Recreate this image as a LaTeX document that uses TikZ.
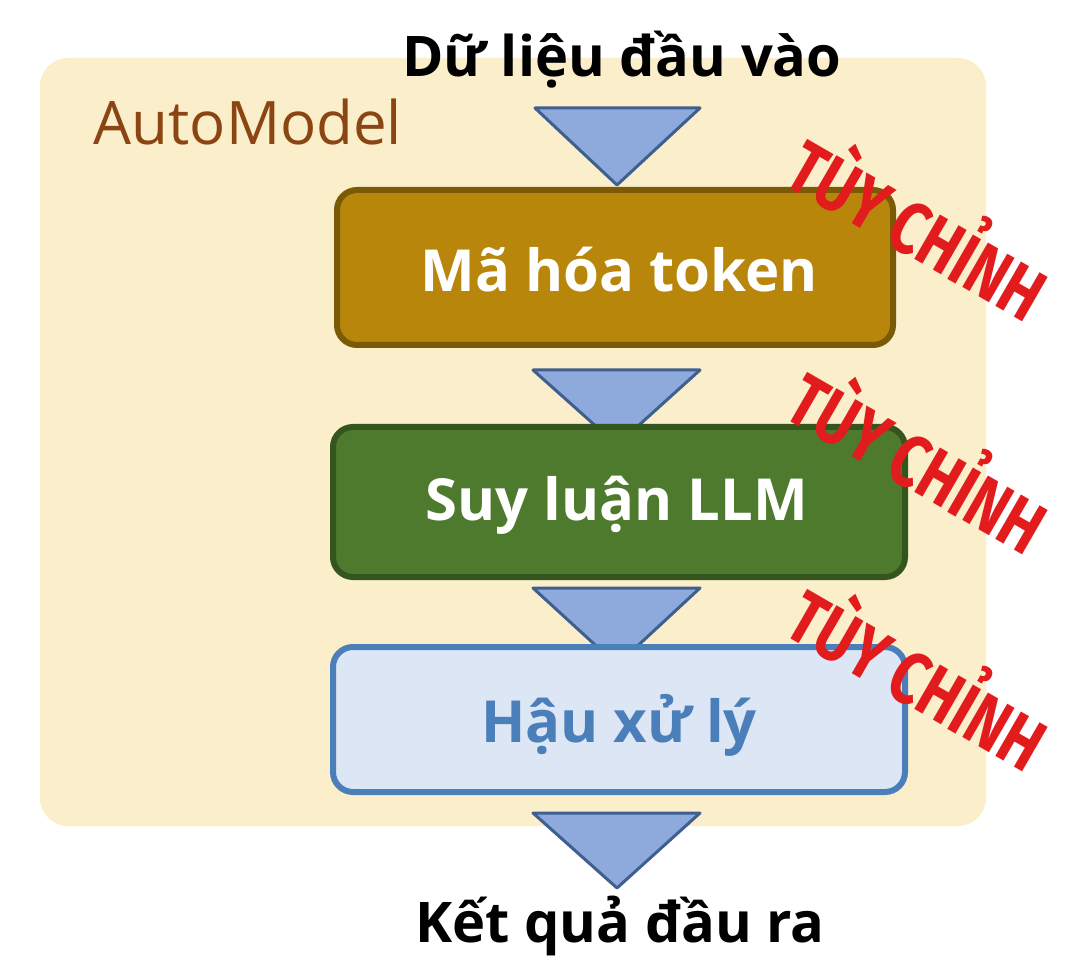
\documentclass[tikz,border=0pt]{standalone}
\usepackage{fontspec}
\setmainfont{Open Sans}
\newfontfamily\stampfont{Fira Sans}
\definecolor{bgY}{HTML}{FBEECB}
\definecolor{triF}{HTML}{8EA9DB}
\definecolor{triD}{HTML}{3F5F8F}
\definecolor{goldF}{HTML}{B8860B}
\definecolor{goldD}{HTML}{7A5A05}
\definecolor{grnF}{HTML}{4E7A2E}
\definecolor{grnD}{HTML}{34561E}
\definecolor{bluF}{HTML}{DCE6F5}
\definecolor{bluD}{HTML}{4A7FBA}
\definecolor{brn}{HTML}{8B4513}
\definecolor{stamp}{HTML}{E21C1C}
\begin{document}
\begin{tikzpicture}[x=1pt,y=-1pt,
  tri/.style={fill=triF,draw=triD,line width=3pt,line join=round},
  box/.style={rounded corners=20pt,line width=6pt},
  btext/.style={font=\fontsize{58}{64}\selectfont\bfseries},
  io/.style={font=\fontsize{56}{62}\selectfont\bfseries,text=black},
  st/.style={font=\stampfont\fontsize{74}{78}\selectfont\bfseries,text=stamp,rotate=-30,xscale=0.78}]
\useasboundingbox (0,0) rectangle (1088,976);
\fill[bgY,rounded corners=28pt] (40,58) rectangle (986,826);
\node[font=\fontsize{60}{66}\selectfont,text=brn] (am) at (248,122) {AutoModel};
\node[io] (in) at (622,60) {Dữ liệu đầu vào};
\draw[tri] (535,108) -- (700,108) -- (617,185) -- cycle;
\draw[box,fill=goldF,draw=goldD] (337,190) rectangle (893,345);
\node[btext,text=white] (b1) at (619,270) {Mã hóa token};
\draw[tri] (533,370) -- (700,370) -- (617,445) -- cycle;
\draw[box,fill=grnF,draw=grnD] (333,427) rectangle (905,577);
\node[btext,text=white] (b2) at (617,505) {Suy luận LLM};
\draw[tri] (533,588) -- (700,588) -- (617,665) -- cycle;
\draw[box,fill=bluF,draw=bluD] (333,647) rectangle (905,792);
\node[btext,text=bluD] (b3) at (619,725) {Hậu xử lý};
\draw[tri] (533,813) -- (700,813) -- (617,888) -- cycle;
\node[io] (out) at (620,926) {Kết quả đầu ra};
\node[st] (s1) at (922,222) {TÙY CHỈNH};
\node[st] (s2) at (922,455) {TÙY CHỈNH};
\node[st] (s3) at (922,672) {TÙY CHỈNH};
\end{tikzpicture}
\end{document}
